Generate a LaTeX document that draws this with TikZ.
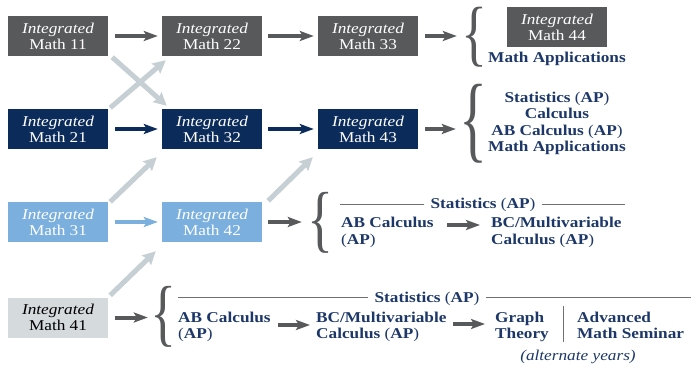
\documentclass[tikz,border=0pt]{standalone}
\usepackage{fontspec}
\setmainfont[FakeStretch=1.15]{Liberation Serif}
\usepackage{graphicx}
\usetikzlibrary{arrows.meta}
\definecolor{dgrey}{HTML}{58595B}
\definecolor{navy}{HTML}{0B2C5A}
\definecolor{lblue}{HTML}{7AAFDE}
\definecolor{lgbox}{HTML}{D5DADD}
\definecolor{lgarr}{HTML}{C6CFD4}
\definecolor{txtblue}{HTML}{1D3868}
\definecolor{rule}{HTML}{6E6F72}
\newcommand\APx{{\mdseries(}AP{\mdseries)}}
\tikzset{
  box/.style={minimum width=100pt, minimum height=40pt, inner sep=0pt, align=center,
    font=\rmfamily\fontsize{15}{16}\selectfont, text=white},
  harr/.style={line width=4pt, -{Stealth[length=14pt,width=10pt,inset=3pt]}},
  larr/.style={line width=5pt, draw=lgarr, -{Stealth[length=13pt,width=13pt,inset=2pt]}},
  bt/.style={inner sep=0pt, text=txtblue, font=\rmfamily\fontsize{15}{16}\selectfont\bfseries},
  brc/.style={inner sep=0pt, text=dgrey, font=\rmfamily\mdseries},
  hrule/.style={draw=rule, line width=0.9pt},
}
\begin{document}
\begin{tikzpicture}[x=1pt,y=-1pt]
\useasboundingbox (0,0) rectangle (691,366);
% boxes
\node[box, fill=dgrey] (m11) at (58,36) {\textit{Integrated}\\Math 11};
\node[box, fill=dgrey] (m22) at (212,36) {\textit{Integrated}\\Math 22};
\node[box, fill=dgrey] (m33) at (368,36) {\textit{Integrated}\\Math 33};
\node[box, fill=dgrey] (m44) at (557,27) {\textit{Integrated}\\Math 44};
\node[box, fill=navy] (m21) at (58,129) {\textit{Integrated}\\Math 21};
\node[box, fill=navy] (m32) at (212,129) {\textit{Integrated}\\Math 32};
\node[box, fill=navy] (m43) at (368,129) {\textit{Integrated}\\Math 43};
\node[box, fill=lblue] (m31) at (58,222) {\textit{Integrated}\\Math 31};
\node[box, fill=lblue] (m42) at (212,222) {\textit{Integrated}\\Math 42};
\node[box, fill=lgbox, text=black] (m41) at (58,317.5) {\textit{Integrated}\\Math 41};
% braces
\node[brc] (b1) at (474,37) {\resizebox*{26pt}{60pt}{\{}};
\node[brc] (b2) at (473,124) {\resizebox*{28pt}{79pt}{\{}};
\node[brc] (b3) at (320,223) {\resizebox*{26pt}{61pt}{\{}};
\node[brc] (b4) at (163,317) {\resizebox*{26pt}{61pt}{\{}};
% light grey diagonal arrows
\draw[larr] ([shift={(4,1)}]m11.south east) -- ([shift={(5,-3)}]m32.north west);
\draw[larr] ([shift={(2,-1)}]m21.north east) -- ([shift={(4,4)}]m22.south west);
\draw[larr] ([shift={(2,0)}]m31.north east) -- ([shift={(-5,8)}]m32.south west);
\draw[larr] ([shift={(6,-1)}]m42.north east) -- ([shift={(-5,8)}]m43.south west);
\draw[larr] ([shift={(2,-2)}]m41.north east) -- ([shift={(-6,9)}]m42.south west);
% horizontal arrows
\draw[harr, dgrey, shorten <=7pt, shorten >=4pt] (m11) -- (m22);
\draw[harr, dgrey, shorten <=6pt, shorten >=4pt] (m22) -- (m33);
\draw[harr, dgrey, shorten <=7pt] (m33.east) -- ([xshift=-4pt]m33.east -| b1.west);
\draw[harr, navy, shorten <=7pt, shorten >=4pt] (m21) -- (m32);
\draw[harr, navy, shorten <=6pt, shorten >=4pt] (m32) -- (m43);
\draw[harr, dgrey, shorten <=7pt] (m43.east) -- ([xshift=-3pt]m43.east -| b2.west);
\draw[harr, lblue, shorten <=7pt, shorten >=4pt] (m31) -- (m42);
\draw[harr, dgrey, shorten <=6pt] (m42.east) -- ([xshift=-5pt]m42.east -| b3.west);
\draw[harr, dgrey, shorten <=7pt] (m41.east) -- ([xshift=-2pt]m41.east -| b4.west);
% row 1 text
\node[bt, anchor=base] (ma1) at (557,63) {Math Applications};
% row 2 text
\node[bt, anchor=base] (st2) at (557,103) {Statistics \APx};
\node[bt, anchor=base] (ca2) at (557,119) {Calculus};
\node[bt, anchor=base] (ab2) at (557,136) {AB Calculus \APx};
\node[bt, anchor=base] (ma2) at (557,152) {Math Applications};
% row 3
\node[bt, anchor=base, inner xsep=6pt] (st3) at (483,209) {Statistics \APx};
\coordinate (r3l) at (340,204);
\coordinate (r3r) at (625,204);
\draw[hrule] (r3l) -- (r3l -| st3.west);
\draw[hrule] (r3r -| st3.east) -- (r3r);
\node[bt, anchor=base west] (ab3a) at (341,228) {AB Calculus};
\node[bt, anchor=base west] (ab3b) at (341,245) {\APx};
\node[bt, anchor=base west] (bc3a) at (491,228) {BC/Multivariable};
\node[bt, anchor=base west] (bc3b) at (491,245) {Calculus \APx};
\draw[harr, dgrey, shorten <=13pt, shorten >=11pt] ([yshift=3pt]ab3a.base east) -- ([yshift=3pt]bc3a.base west);
% row 4
\node[bt, anchor=base, inner xsep=6pt] (st4) at (427,302) {Statistics \APx};
\coordinate (r4l) at (178,297);
\coordinate (r4r) at (691,297);
\draw[hrule] (r4l) -- (r4l -| st4.west);
\draw[hrule] (r4r -| st4.east) -- (r4r);
\node[bt, anchor=base west] (ab4a) at (178,322) {AB Calculus};
\node[bt, anchor=base west] (ab4b) at (178,338) {\APx};
\node[bt, anchor=base west] (bc4a) at (316,322) {BC/Multivariable};
\node[bt, anchor=base west] (bc4b) at (316,338) {Calculus \APx};
\node[bt, anchor=base west] (gt4a) at (495,322) {Graph};
\node[bt, anchor=base west] (gt4b) at (495,338) {Theory};
\node[bt, anchor=base west] (ad4a) at (577,322) {Advanced};
\node[bt, anchor=base west] (ad4b) at (577,338) {Math Seminar};
\coordinate (sept) at (563,306);
\coordinate (sepb) at (563,342);
\draw[hrule] (sept) -- (sepb);
\node[bt, anchor=base, font=\rmfamily\fontsize{15}{16}\selectfont\mdseries\itshape] (alt) at (578,360) {(alternate years)};
\draw[harr, dgrey, shorten <=7pt, shorten >=6pt] ([yshift=-3pt]ab4a.base east) -- ([yshift=-3pt]ab4a.base east -| bc4a.west);
\draw[harr, dgrey, shorten <=6pt, shorten >=10pt] ([yshift=-2pt]bc4a.base east) -- ([yshift=-2pt]bc4a.base east -| gt4a.west);
\end{tikzpicture}
\end{document}
